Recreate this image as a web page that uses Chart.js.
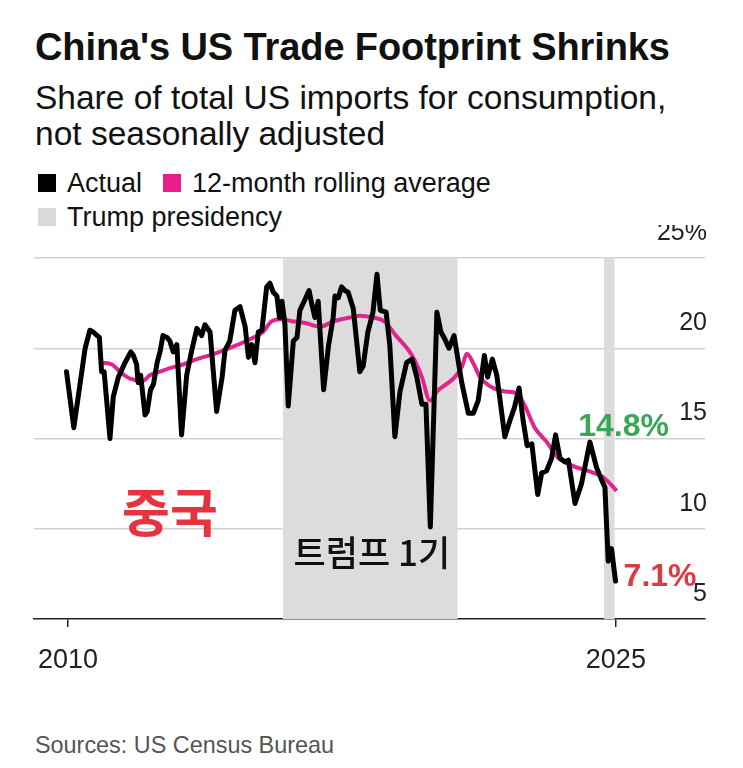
<!DOCTYPE html>
<html>
<head>
<meta charset="utf-8">
<script src="https://cdn.jsdelivr.net/npm/chart.js@4"></script>
<style>
  html, body { margin: 0; padding: 0; background: #fff; }
  #page { position: relative; width: 743px; height: 768px; overflow: hidden; font-family: "Liberation Sans", Arial, sans-serif; color: #111; }
  .title { position: absolute; left: 35px; top: 28px; font-size: 38px; font-weight: bold; line-height: 38px; white-space: nowrap; letter-spacing: -0.1px; }
  .subtitle { position: absolute; left: 35px; top: 80px; font-size: 33.5px; line-height: 36px; white-space: nowrap; }
  .legend { position: absolute; left: 38px; font-size: 27px; line-height: 34px; display: flex; align-items: center; white-space: nowrap; }
  .legend .sw { display: inline-block; width: 18px; height: 18px; margin-right: 11px; }
  .legend .item { display: flex; align-items: center; margin-right: 21px; }
  .source { position: absolute; left: 35px; top: 732px; font-size: 23.4px; line-height: 26px; color: #555; }
  #wrap { position: absolute; left: 0; top: 225px; width: 743px; height: 475px; }
</style>
</head>
<body>
<div id="page">
  <div class="title">China's US Trade Footprint Shrinks</div>
  <div class="subtitle">Share of total US imports for consumption,<br>not seasonally adjusted</div>
  <div class="legend" style="top:166px">
    <span class="item"><span class="sw" style="background:#000"></span>Actual</span>
    <span class="item"><span class="sw" style="background:#e91e8c"></span>12-month rolling average</span>
  </div>
  <div class="legend" style="top:200px">
    <span class="item"><span class="sw" style="background:#d9d9d9"></span>Trump presidency</span>
  </div>
  <div id="wrap"><canvas id="chart"></canvas></div>
  <div class="source">Sources: US Census Bureau</div>
</div>
<script>
const xTickYears = [2010, 2025];
const yTickValues = [5, 10, 15, 20, 25];

// black line: China share of US imports, %
const actualYears = [
  2009.96, 2010.16, 2010.47, 2010.60, 2010.69, 2010.80, 2010.86, 2010.92, 2010.99, 2011.15,
  2011.24, 2011.38, 2011.56, 2011.72, 2011.79, 2011.88, 2011.92, 2011.99, 2012.11, 2012.17,
  2012.26, 2012.34, 2012.44, 2012.52, 2012.60, 2012.71, 2012.79, 2012.88, 2012.98, 2013.11,
  2013.25, 2013.39, 2013.53, 2013.66, 2013.75, 2013.89, 2014.07, 2014.22, 2014.30, 2014.43,
  2014.57, 2014.71, 2014.85, 2014.94, 2015.03, 2015.12, 2015.21, 2015.31, 2015.44, 2015.53,
  2015.62, 2015.72, 2015.79, 2015.86, 2015.94, 2016.03, 2016.17, 2016.27, 2016.35, 2016.49,
  2016.60, 2016.67, 2016.76, 2016.85, 2017.00, 2017.13, 2017.26, 2017.31, 2017.40, 2017.49,
  2017.58, 2017.67, 2017.81, 2017.99, 2018.08, 2018.21, 2018.35, 2018.46, 2018.55, 2018.71,
  2018.81, 2018.95, 2019.09, 2019.27, 2019.42, 2019.55, 2019.69, 2019.80, 2019.92, 2020.10,
  2020.21, 2020.32, 2020.43, 2020.57, 2020.78, 2020.96, 2021.10, 2021.23, 2021.40, 2021.49,
  2021.62, 2021.74, 2021.85, 2021.96, 2022.10, 2022.22, 2022.35, 2022.46, 2022.57, 2022.70,
  2022.86, 2022.97, 2023.10, 2023.24, 2023.35, 2023.47, 2023.61, 2023.70, 2023.88, 2024.06,
  2024.29, 2024.47, 2024.61, 2024.70, 2024.79, 2024.88, 2024.99
];
const actualShare = [
  18.7, 15.6, 20.0, 21.0, 20.9, 20.7, 20.6, 18.7, 18.7, 15.0,
  17.3, 18.4, 19.2, 19.8, 19.6, 19.1, 18.1, 18.5, 16.3, 16.5,
  17.7, 18.0, 19.2, 19.8, 20.7, 20.6, 20.4, 19.8, 20.2, 15.2,
  18.5, 19.9, 21.1, 20.7, 21.3, 20.9, 16.5, 18.4, 19.9, 20.4,
  22.1, 22.3, 21.2, 19.5, 20.2, 19.2, 20.9, 21.0, 23.4, 23.6,
  23.1, 22.9, 21.7, 22.6, 21.3, 16.8, 20.4, 20.6, 22.1, 22.7,
  23.2, 22.5, 21.7, 22.6, 17.7, 20.1, 21.7, 22.9, 22.8, 23.4,
  23.2, 23.1, 22.2, 18.7, 19.0, 20.9, 22.0, 24.1, 22.1, 22.0,
  20.2, 15.1, 17.6, 19.2, 19.4, 18.4, 16.9, 16.9, 10.1, 22.0,
  20.9, 20.5, 20.0, 20.7, 18.1, 16.4, 16.4, 17.1, 19.6, 18.4,
  19.4, 18.5, 16.8, 15.1, 16.0, 16.7, 17.8, 16.0, 14.6, 14.7,
  11.9, 13.1, 13.2, 13.9, 15.2, 13.9, 13.7, 13.8, 11.4, 12.5,
  14.8, 13.4, 12.7, 12.3, 8.2, 8.9, 7.1
];

// pink line: 12-month rolling average
const avgYears = [
  2010.93, 2011.20, 2011.48, 2011.72, 2012.05, 2012.24, 2012.52, 2012.79, 2013.15, 2013.53,
  2014.02, 2014.54, 2014.98, 2015.34, 2015.58, 2015.86, 2016.13, 2016.49, 2016.90, 2017.28,
  2017.72, 2017.99, 2018.35, 2018.65, 2018.98, 2019.42, 2019.69, 2019.91, 2020.10, 2020.35,
  2020.59, 2020.79, 2020.92, 2021.09, 2021.28, 2021.55, 2021.96, 2022.29, 2022.51, 2022.78,
  2023.11, 2023.39, 2023.80, 2024.24, 2024.62, 2024.84, 2025.02
];
const avgShare = [
  19.2, 19.1, 18.6, 18.3, 18.2, 18.5, 18.7, 18.9, 19.1, 19.4,
  19.7, 20.1, 20.5, 20.9, 21.5, 21.6, 21.5, 21.4, 21.2, 21.5,
  21.7, 21.8, 21.7, 21.5, 20.7, 19.6, 18.4, 17.1, 17.6, 18.0,
  18.4, 19.0, 19.7, 19.2, 18.4, 17.9, 17.6, 17.5, 16.8, 15.6,
  14.8, 14.0, 13.5, 13.2, 12.9, 12.5, 12.1
];

// Trump presidency bands (start, end)
const trumpStarts = [2015.88, 2024.67];
const trumpEnds = [2020.67, 2024.97];

const toPoints = (xs, ys) => xs.map((x, i) => ({ x, y: ys[i] }));

const bandSets = trumpStarts.map((start, i) => ({
  label: 'Trump presidency',
  data: [{ x: start, y: 25 }, { x: trumpEnds[i], y: 25 }],
  fill: 'start',
  backgroundColor: '#dcdcdc',
  borderWidth: 0,
  pointRadius: 0,
  order: 3,
}));

// text notes drawn on the plot
const notesPlugin = {
  id: 'notes',
  afterDatasetsDraw(chart) {
    const { ctx, scales: { x, y } } = chart;
    const notes = [
      { text: '중국', x: 2012.79, y: 10.9, font: 'bold 52px "Noto Sans CJK KR"', color: '#e5333f' },
      { text: '트럼프 1기', x: 2018.32, y: 8.67, font: '500 35px "Noto Sans CJK KR"', color: '#111' },
      { text: '14.8%', x: 2025.21, y: 15.65, font: 'bold 32px "Liberation Sans"', color: '#3aa757' },
      { text: '7.1%', x: 2026.21, y: 7.34, font: 'bold 32px "Liberation Sans"', color: '#dc3a41' },
    ];
    ctx.save();
    ctx.textAlign = 'center';
    ctx.textBaseline = 'middle';
    notes.forEach((n) => {
      ctx.font = n.font;
      ctx.fillStyle = n.color;
      ctx.fillText(n.text, x.getPixelForValue(n.x), y.getPixelForValue(n.y));
    });
    ctx.restore();
  },
};

new Chart(document.getElementById('chart'), {
  type: 'line',
  data: {
    datasets: [
      ...bandSets,
      {
        label: '12-month rolling average',
        data: toPoints(avgYears, avgShare),
        borderColor: '#e2248f',
        borderWidth: 4,
        cubicInterpolationMode: 'monotone',
        pointRadius: 0,
        fill: false,
        order: 2,
      },
      {
        label: 'Actual',
        data: toPoints(actualYears, actualShare),
        borderColor: '#000',
        borderWidth: 5,
        borderJoinStyle: 'round',
        borderCapStyle: 'round',
        tension: 0,
        pointRadius: 0,
        fill: false,
        order: 1,
      },
    ],
  },
  options: {
    responsive: true,
    maintainAspectRatio: false,
    animation: false,
    layout: { padding: { left: 34, right: 38, top: 33, bottom: 20 } },
    plugins: {
      legend: { display: false },
      tooltip: { enabled: false },
    },
    scales: {
      x: {
        type: 'linear',
        min: 2009.07,
        max: 2027.44,
        afterBuildTicks: (axis) => { axis.ticks = xTickYears.map((v) => ({ value: v })); },
        afterFit: (axis) => { axis.height = 61; },
        ticks: {
          callback: (v) => String(v),
          font: { family: 'Liberation Sans', size: 27 },
          color: '#222',
          padding: 17,
          maxRotation: 0,
        },
        grid: { drawOnChartArea: false, drawTicks: true, tickLength: 8, color: '#222', lineWidth: 1.5 },
        border: { display: true, color: '#222', width: 1.5 },
      },
      y: {
        position: 'right',
        min: 5,
        max: 25,
        afterBuildTicks: (axis) => { axis.ticks = yTickValues.map((v) => ({ value: v })); },
        afterFit: (axis) => { axis.width = 0; },
        ticks: {
          mirror: true,
          padding: 2,
          labelOffset: -25,
          callback: (v) => (v === 25 ? '25%' : String(v)),
          font: { family: 'Liberation Sans', size: 25 },
          color: '#222',
        },
        grid: {
          drawTicks: false,
          color: (c) => (c.tick && c.tick.value === 5 ? 'rgba(0,0,0,0)' : '#d2d2d2'),
          lineWidth: 1.5,
        },
        border: { display: false },
      },
    },
  },
  plugins: [notesPlugin],
});
</script>
</body>
</html>
